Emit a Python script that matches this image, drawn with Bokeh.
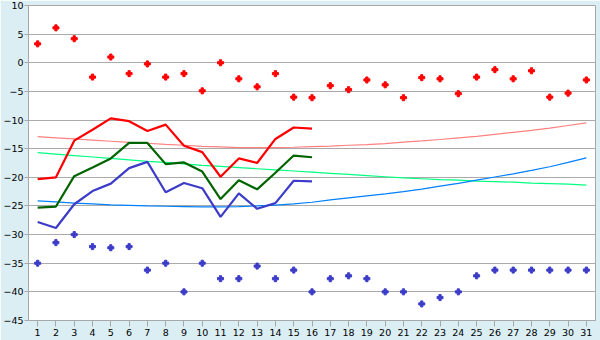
from bokeh.plotting import figure
from bokeh.models import Range1d, FixedTicker
from bokeh.embed import file_html
from bokeh.resources import INLINE

days = list(range(1, 32))
days16 = list(range(1, 17))

obs_max = [-20.3, -20.0, -13.6, -11.7, -9.7, -10.2, -11.9, -10.8, -14.5, -15.6,
           -19.9, -16.7, -17.5, -13.3, -11.3, -11.5]
obs_mean = [-25.3, -25.1, -19.8, -18.3, -16.7, -14.0, -14.0, -17.7, -17.4, -19.0,
            -23.8, -20.5, -22.1, -19.2, -16.2, -16.5]
obs_min = [-27.8, -28.85, -24.7, -22.4, -21.1, -18.4, -17.3, -22.6, -21.0, -21.9,
           -26.9, -22.8, -25.5, -24.5, -20.6, -20.7]

norm_max = [-12.9, -13.1, -13.3, -13.5, -13.7, -13.9, -14.05, -14.25, -14.4, -14.6,
            -14.7, -14.8, -14.8, -14.8, -14.75, -14.65, -14.55, -14.4, -14.3, -14.1,
            -13.85, -13.65, -13.4, -13.1, -12.85, -12.5, -12.15, -11.8, -11.4, -10.95, -10.5]
norm_mean = [-15.7, -15.95, -16.2, -16.45, -16.7, -16.95, -17.2, -17.4, -17.65, -17.9,
             -18.1, -18.3, -18.5, -18.7, -18.9, -19.1, -19.3, -19.5, -19.7, -19.9,
             -20.1, -20.25, -20.4, -20.5, -20.65, -20.75, -20.85, -21.0, -21.1, -21.2, -21.35]
norm_min = [-24.1, -24.3, -24.5, -24.65, -24.8, -24.9, -25.0, -25.05, -25.1, -25.15,
            -25.15, -25.1, -25.0, -24.85, -24.65, -24.35, -23.95, -23.6, -23.25, -22.9,
            -22.5, -22.05, -21.55, -21.05, -20.5, -19.95, -19.4, -18.8, -18.15, -17.4, -16.6]

rec_max = [3.3, 6.1, 4.2, -2.5, 1.0, -1.9, -0.2, -2.5, -1.9, -4.9,
           0.0, -2.8, -4.2, -1.9, -6.0, -6.1, -4.0, -4.7, -3.0, -3.85,
           -6.1, -2.6, -2.8, -5.4, -2.5, -1.2, -2.8, -1.4, -6.0, -5.3, -3.0]
rec_min = [-35.0, -31.4, -30.0, -32.1, -32.3, -32.1, -36.2, -35.0, -40.0, -35.0,
           -37.7, -37.7, -35.5, -37.7, -36.2, -40.0, -37.7, -37.2, -37.7, -40.0,
           -40.0, -42.1, -41.0, -40.0, -37.2, -36.2, -36.2, -36.2, -36.2, -36.2, -36.2]

y_ticks = [10, 5, 0, -5, -10, -15, -20, -25, -30, -35, -40, -45]

p = figure(width=600, height=340, output_backend="svg", toolbar_location=None,
           x_range=Range1d(0.5, 31.5), y_range=Range1d(-45, 10),
           min_border_left=26, min_border_right=5, min_border_top=5, min_border_bottom=20)

p.background_fill_color = "white"
p.border_fill_color = "#DAEEF4"
p.outline_line_color = "#A8A8A8"
p.outline_line_width = 1

p.xgrid.grid_line_color = None
p.ygrid.grid_line_color = "#AAAAAA"
p.ygrid.grid_line_width = 1

p.xaxis.ticker = FixedTicker(ticks=days)
p.yaxis.ticker = FixedTicker(ticks=y_ticks)
p.yaxis.major_label_overrides = {v: (("\u2212" + str(abs(v))) if v < 0 else str(v)) for v in y_ticks}

for ax in (p.xaxis[0], p.yaxis[0]):
    ax.axis_line_color = "#A8A8A8"
    ax.major_tick_line_color = "#A8A8A8"
    ax.minor_tick_line_color = None
    ax.major_tick_in = 0
    ax.major_label_text_font = "DejaVu Sans"
    ax.major_label_text_font_size = "9.5px"
    ax.major_label_text_color = "black"

p.xaxis.major_tick_out = 6
p.xaxis.major_label_standoff = 2
p.yaxis.major_tick_out = 4
p.yaxis.major_label_standoff = 1

p.line(days, norm_max, color="#FF8080", line_width=1.2)
p.line(days, norm_mean, color="#00FF80", line_width=1.2)
p.line(days, norm_min, color="#0080FF", line_width=1.2)

p.line(days16, obs_max, color="#FF0000", line_width=2.2)
p.line(days16, obs_mean, color="#006400", line_width=2.2)
p.line(days16, obs_min, color="#3C3CC8", line_width=2.2)

p.scatter(days, rec_max, marker="plus", size=6, color="#FF0000")
p.scatter(days, rec_min, marker="plus", size=6, color="#3C3CC8")

open("out.html", "w").write(file_html(p, INLINE))
